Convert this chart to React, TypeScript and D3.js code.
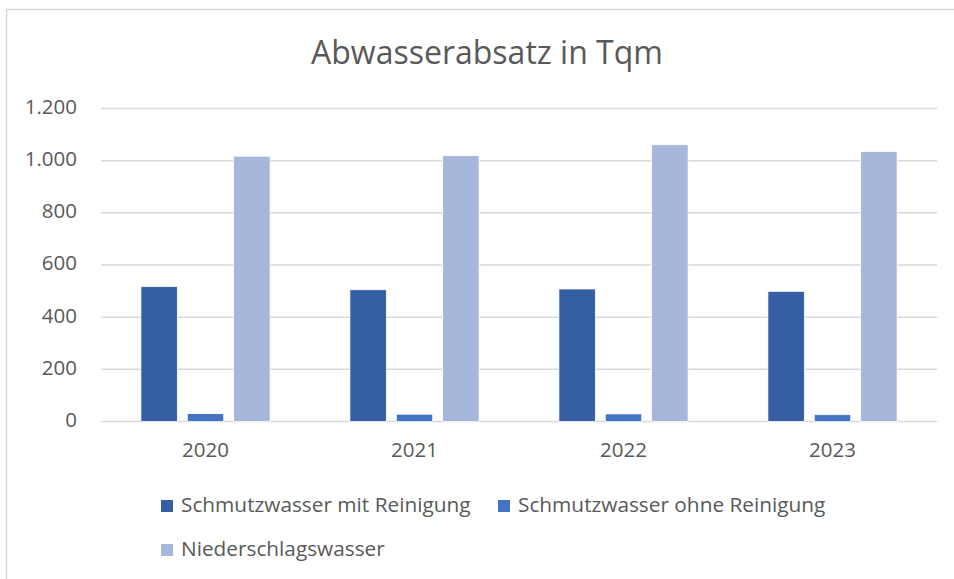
import { useEffect, useRef } from 'react'
import * as d3 from 'd3'

// --- DATA ---
const years = ['2020', '2021', '2022', '2023']
const seriesNames = [
  'Schmutzwasser mit Reinigung',
  'Schmutzwasser ohne Reinigung',
  'Niederschlagswasser',
]
const mitReinigung = [517, 505, 508, 499]
const ohneReinigung = [30, 28, 29, 26]
const niederschlag = [1017, 1019, 1061, 1035]
const yTicks = [0, 200, 400, 600, 800, 1000, 1200]
const colors = ['#365FA3', '#4472C4', '#A7B6DB']

const W = 954
const H = 579
const FONT = '"Open Sans", sans-serif'
const TEXT = '#595959'

export default function App() {
  const svgRef = useRef<SVGSVGElement | null>(null)

  useEffect(() => {
    if (!svgRef.current) return
    const svg = d3.select(svgRef.current)
    svg.selectAll('*').remove()

    const values = [mitReinigung, ohneReinigung, niederschlag]
    const margin = { left: 101, right: 937, top: 108.5, bottom: 421.5 }

    // frame
    svg
      .append('rect')
      .attr('x', 6.5)
      .attr('y', 9.5)
      .attr('width', W + 10)
      .attr('height', H + 10)
      .attr('fill', '#fff')
      .attr('stroke', '#D9D9D9')
      .attr('stroke-width', 1.5)

    // title
    svg
      .append('text')
      .attr('x', 487)
      .attr('y', 55)
      .attr('text-anchor', 'middle')
      .attr('dominant-baseline', 'middle')
      .attr('font-family', FONT)
      .attr('font-size', 32)
      .attr('fill', TEXT)
      .text('Abwasserabsatz in Tqm')

    // --- SCALES ---
    const y = d3.scaleLinear().domain([0, 1200]).range([margin.bottom, margin.top])
    const x0 = d3.scaleBand<string>().domain(years).range([margin.left, margin.right])
    const groupW = x0.bandwidth() * 0.618
    const x1 = d3
      .scaleBand<number>()
      .domain(d3.range(seriesNames.length))
      .range([0, groupW])
      .paddingInner(0.215)

    // --- GRID ---
    svg
      .append('g')
      .selectAll('line')
      .data(yTicks)
      .enter()
      .append('line')
      .attr('x1', margin.left)
      .attr('x2', margin.right)
      .attr('y1', (d) => y(d))
      .attr('y2', (d) => y(d))
      .attr('stroke', '#D9D9D9')
      .attr('stroke-width', 1.5)

    svg
      .append('g')
      .selectAll('text')
      .data(yTicks)
      .enter()
      .append('text')
      .attr('x', 77)
      .attr('y', (d) => y(d))
      .attr('text-anchor', 'end')
      .attr('dominant-baseline', 'middle')
      .attr('font-family', FONT)
      .attr('font-size', 20.5)
      .attr('fill', TEXT)
      .text((d) => d3.format(',')(d).replace(/,/g, '.'))

    // --- BARS ---
    years.forEach((yr, i) => {
      const gx = (x0(yr) ?? 0) + (x0.bandwidth() - groupW) / 2
      values.forEach((vals, s) => {
        svg
          .append('rect')
          .attr('x', gx + (x1(s) ?? 0))
          .attr('y', y(vals[i]))
          .attr('width', x1.bandwidth())
          .attr('height', y(0) - y(vals[i]))
          .attr('fill', colors[s])
          .attr('stroke', '#fff')
          .attr('stroke-width', 0.75)
      })
    })

    // --- X LABELS ---
    svg
      .append('g')
      .selectAll('text')
      .data(years)
      .enter()
      .append('text')
      .attr('x', (d) => (x0(d) ?? 0) + x0.bandwidth() / 2)
      .attr('y', 452)
      .attr('text-anchor', 'middle')
      .attr('dominant-baseline', 'middle')
      .attr('font-family', FONT)
      .attr('font-size', 20.5)
      .attr('fill', TEXT)
      .text((d) => d)

    // --- LEGEND ---
    const legendPos = [
      { x: 161, y: 506 },
      { x: 498, y: 506 },
      { x: 161, y: 550 },
    ]
    seriesNames.forEach((name, s) => {
      const p = legendPos[s]
      svg
        .append('rect')
        .attr('x', p.x)
        .attr('y', p.y - 6)
        .attr('width', 12)
        .attr('height', 12)
        .attr('fill', colors[s])
      svg
        .append('text')
        .attr('x', p.x + 20)
        .attr('y', p.y)
        .attr('dominant-baseline', 'middle')
        .attr('font-family', FONT)
        .attr('font-size', 20.8)
        .attr('fill', TEXT)
        .text(name)
    })
  }, [])

  return (
    <div style={{ position: 'fixed', left: 0, top: 0, width: W, height: H, background: '#fff' }}>
      <svg ref={svgRef} width={W} height={H} />
    </div>
  )
}
